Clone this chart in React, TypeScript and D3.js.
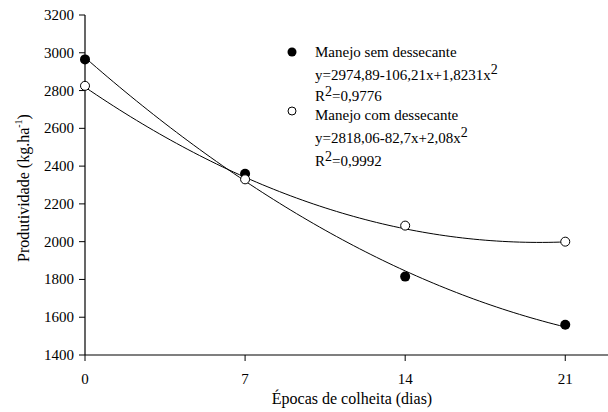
import React from 'react';
import * as d3 from 'd3';

// observed yields (kg/ha) at each harvest time (days)
const days = [0, 7, 14, 21];
const semDessecante = [2965, 2360, 1815, 1560];
const comDessecante = [2825, 2330, 2085, 2000];

// regression coefficients printed in the legend: a + b x + c x^2
const coefSem = [2974.89, -106.21, 1.8231];
const coefCom = [2818.06, -82.7, 2.08];

const xTicks = [0, 7, 14, 21];
const yTicks = [1400, 1600, 1800, 2000, 2200, 2400, 2600, 2800, 3000, 3200];

const W = 608;
const H = 412;
const FONT = "'Times New Roman', 'Liberation Serif', Times, serif";

export default function App() {
  const x = d3.scaleLinear().domain([0, 23]).range([85, 611]);
  const y = d3.scaleLinear().domain([1400, 3200]).range([355, 15]);

  const fit = (c: number[]) =>
    d3.range(0, 21.01, 0.25).map((t) => [t, c[0] + c[1] * t + c[2] * t * t] as [number, number]);

  const line = d3
    .line<[number, number]>()
    .x((d) => x(d[0]))
    .y((d) => y(d[1]));

  const x0 = x.range()[0];
  const y0 = y.range()[0];

  return (
    <svg
      width={W}
      height={H}
      style={{ position: 'fixed', left: 0, top: 0, background: '#fff' }}
    >
      <g style={{ fontFamily: FONT }} fill="#000">
        {/* axes */}
        <line x1={x0} x2={x0} y1={y(3200)} y2={y0} stroke="#000" strokeWidth={1.2} />
        <line x1={x0} x2={W} y1={y0} y2={y0} stroke="#000" strokeWidth={1.2} />
        {yTicks.map((t) => (
          <g key={t}>
            <line x1={x0 - 6} x2={x0} y1={y(t)} y2={y(t)} stroke="#000" />
            <text x={x0 - 11} y={y(t) + 5} fontSize={15} textAnchor="end">
              {t}
            </text>
          </g>
        ))}
        {xTicks.map((t) => (
          <g key={t}>
            <line x1={x(t)} x2={x(t)} y1={y0} y2={y0 + 6} stroke="#000" />
            <text x={x(t)} y={y0 + 29} fontSize={15} textAnchor="middle">
              {t}
            </text>
          </g>
        ))}
        <text x={352} y={404} fontSize={16} textAnchor="middle">
          Épocas de colheita (dias)
        </text>
        <text transform="translate(29,188) rotate(-90)" fontSize={16} textAnchor="middle">
          Produtividade (kg.ha
          <tspan fontSize={10} dy={-7}>
            -1
          </tspan>
          <tspan dy={7}>)</tspan>
        </text>

        {/* fitted curves */}
        <path d={line(fit(coefSem)) || ''} fill="none" stroke="#000" strokeWidth={1} />
        <path d={line(fit(coefCom)) || ''} fill="none" stroke="#000" strokeWidth={1} />

        {/* observed points */}
        {days.map((d, i) => (
          <circle key={'s' + d} cx={x(d)} cy={y(semDessecante[i])} r={5} fill="#000" />
        ))}
        {days.map((d, i) => (
          <circle
            key={'c' + d}
            cx={x(d)}
            cy={y(comDessecante[i])}
            r={4.5}
            fill="#fff"
            stroke="#000"
            strokeWidth={1}
          />
        ))}

        {/* legend */}
        <circle cx={292} cy={52} r={4.5} fill="#000" />
        <text x={315} y={57} fontSize={15}>Manejo sem dessecante</text>
        <text x={315} y={80} fontSize={15}>
          y=2974,89-106,21x+1,8231x
          <tspan fontSize={14} dy={-6}>2</tspan>
        </text>
        <text x={315} y={101} fontSize={15}>
          R<tspan fontSize={14} dy={-5}>2</tspan>
          <tspan dy={5}>=0,9776</tspan>
        </text>
        <circle cx={292} cy={111} r={4} fill="#fff" stroke="#000" strokeWidth={1} />
        <text x={315} y={120} fontSize={15}>Manejo com dessecante</text>
        <text x={315} y={143} fontSize={15}>
          y=2818,06-82,7x+2,08x
          <tspan fontSize={14} dy={-6}>2</tspan>
        </text>
        <text x={315} y={166} fontSize={15}>
          R<tspan fontSize={14} dy={-5}>2</tspan>
          <tspan dy={5}>=0,9992</tspan>
        </text>
      </g>
    </svg>
  );
}
